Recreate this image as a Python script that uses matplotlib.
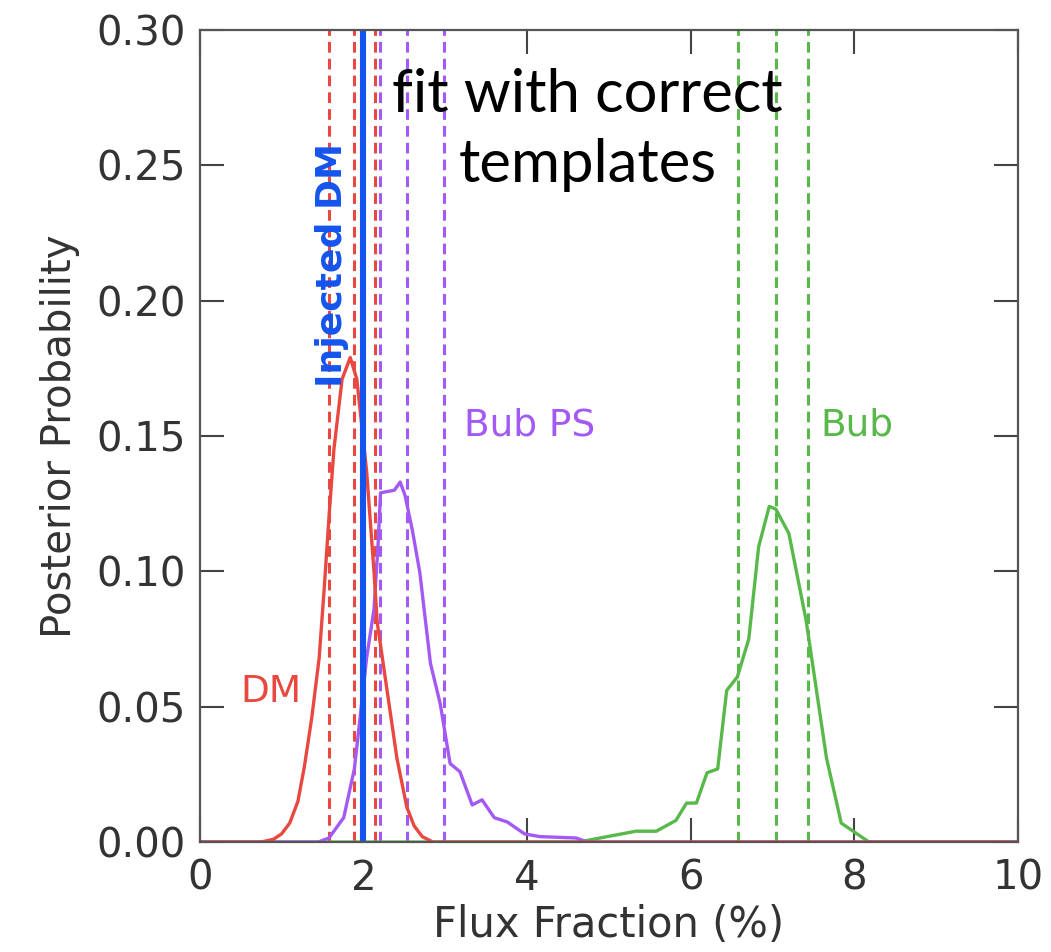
import numpy as np
import matplotlib.pyplot as plt

# posterior curves
dm_x = [0.0, 0.75, 0.9, 1.0, 1.1, 1.2, 1.28, 1.37, 1.46, 1.52, 1.58, 1.64, 1.74, 1.84,
        1.92, 2.04, 2.13, 2.17, 2.29, 2.41, 2.53, 2.62, 2.72, 2.85, 10.0]
dm_y = [0.0, 0.0, 0.001, 0.003, 0.007, 0.015, 0.028, 0.046, 0.068, 0.093, 0.12, 0.145,
        0.171, 0.179, 0.171, 0.137, 0.10, 0.081, 0.056, 0.031, 0.013, 0.006, 0.002,
        0.0, 0.0]

bps_x = [0.0, 1.45, 1.58, 1.76, 1.89, 1.96, 2.04, 2.13, 2.18, 2.21, 2.38, 2.45, 2.51,
         2.6, 2.69, 2.82, 2.94, 3.06, 3.18, 3.33, 3.45, 3.6, 3.76, 3.97, 4.16, 4.6,
         4.74, 10.0]
bps_y = [0.0, 0.0, 0.0015, 0.009, 0.027, 0.046, 0.068, 0.086, 0.11, 0.129, 0.130,
         0.133, 0.128, 0.115, 0.0996, 0.066, 0.051, 0.029, 0.026, 0.0137, 0.0156,
         0.009, 0.0074, 0.003, 0.002, 0.0015, 0.0, 0.0]

bub_x = [0.0, 4.63, 5.33, 5.58, 5.82, 5.95, 6.07, 6.2, 6.33, 6.44, 6.57, 6.71, 6.83,
         6.96, 7.04, 7.2, 7.41, 7.66, 7.84, 8.18, 10.0]
bub_y = [0.0, 0.0, 0.004, 0.004, 0.008, 0.0144, 0.0144, 0.0256, 0.027, 0.056, 0.061,
         0.075, 0.109, 0.124, 0.123, 0.114, 0.082, 0.031, 0.007, 0.0, 0.0]

# credible interval markers (16, 50, 84 %)
dm_lines = [1.575, 1.88, 2.14]
bps_lines = [2.2, 2.53, 2.98]
bub_lines = [6.58, 7.04, 7.43]
injected_dm = 2.0

red = '#e8483f'
purple = '#a35af5'
green = '#58b94a'
blue = '#1454ee'


def main():
    fig = plt.figure(figsize=(10.51, 9.52), dpi=100)
    ax = fig.add_axes([0.190, 0.1155, 0.7786, 0.853])

    dash = (0, (3.5, 2.0))
    for xv in dm_lines:
        ax.axvline(xv, color=red, lw=2.2, ls=dash)
    for xv in bps_lines:
        ax.axvline(xv, color=purple, lw=2.2, ls=dash)
    for xv in bub_lines:
        ax.axvline(xv, color=green, lw=2.2, ls=dash)

    ax.plot(bub_x, bub_y, color=green, lw=2.4)
    ax.plot(bps_x, bps_y, color=purple, lw=2.4)
    ax.plot(dm_x, dm_y, color=red, lw=2.4)
    ax.axvline(injected_dm, color=blue, lw=4.4)

    ax.set_xlim(0, 10)
    ax.set_ylim(0, 0.30)
    ax.set_xticks([0, 2, 4, 6, 8, 10])
    ax.set_yticks(np.arange(0, 0.31, 0.05))
    ax.set_yticklabels(['%.2f' % v for v in np.arange(0, 0.31, 0.05)])
    ax.tick_params(direction='in', length=17, width=1.5, color='#444444',
                   labelsize=29, labelcolor='#333333', top=True, right=True, pad=10)
    ax.tick_params(axis='x', pad=12)
    for s in ax.spines.values():
        s.set_color('#555555')
        s.set_linewidth(1.6)

    ax.set_xlabel('Flux Fraction (%)', fontsize=30, color='#333333', labelpad=4)
    ax.set_ylabel('Posterior Probability', fontsize=29, color='#333333', labelpad=12)

    ax.text(0.87, 0.0556, 'DM', color=red, fontsize=27, ha='center', va='center')
    ax.text(4.03, 0.154, 'Bub PS', color=purple, fontsize=27, ha='center', va='center')
    ax.text(8.03, 0.154, 'Bub', color=green, fontsize=27, ha='center', va='center')
    ax.text(1.62, 0.213, 'Injected DM', color=blue, fontsize=26, fontweight='bold',
            rotation=90, ha='center', va='center')
    ax.text(4.74, 0.263, 'fit with correct\ntemplates', color='black', fontsize=43,
            family='Lato', ha='center', va='center', linespacing=1.35)

    fig.savefig('out.png', dpi=100)


main()
